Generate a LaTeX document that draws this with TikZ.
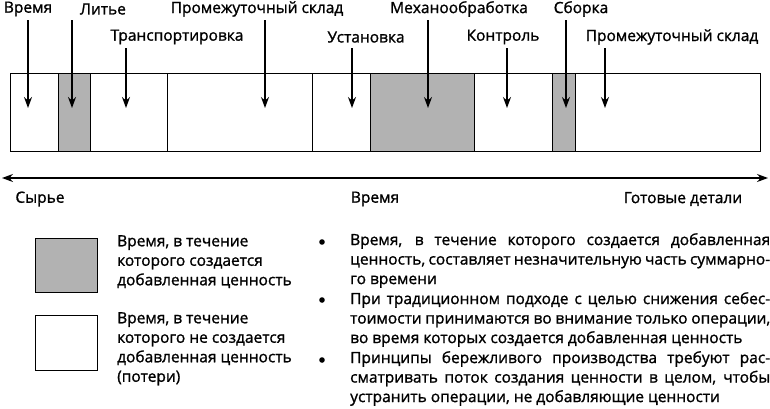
\documentclass[tikz,border=0pt]{standalone}
\usepackage{fontspec}
\setmainfont{Open Sans}[FakeBold=1.2]
\usetikzlibrary{arrows.meta}
\begin{document}
\begin{tikzpicture}[x=1pt,y=-1pt,
  seg/.style={draw,line width=1pt},
  gray/.style={seg,fill=black!30},
  lbl/.style={font=\fontsize{15.5}{18}\selectfont,inner sep=0pt},
  arr/.style={-{Stealth[length=11pt,width=8pt]},line width=1.2pt},
  txt/.style={font=\fontsize{15.5}{19.5}\selectfont,inner sep=0pt,anchor=north west,align=left},
  jtxt/.style={txt,text width=420pt,align=justify}]
\useasboundingbox (0,0) rectangle (770,408);
\draw[seg] (10,73) rectangle (760,151);
\draw[gray] (58,73) rectangle (90,151);
\draw[gray] (370,73) rectangle (474,151);
\draw[gray] (552,73) rectangle (575,151);
\foreach \x in {167,312} \draw[seg] (\x,73) -- (\x,151);
\node[lbl] (t1) at (28,9) {Время};
\node[lbl] (t2) at (103,9) {Литье};
\node[lbl] (t3) at (257,9) {Промежуточный склад};
\node[lbl] (t4) at (459,9) {Механообработка};
\node[lbl] (t5) at (581,9) {Сборка};
\node[lbl] (t6) at (177,37) {Транспортировка};
\node[lbl] (t7) at (366,37) {Установка};
\node[lbl] (t8) at (503,37) {Контроль};
\node[lbl] (t9) at (672,37) {Промежуточный склад};
\coordinate (a1) at (28,108); \coordinate (a2) at (72,108); \coordinate (a3) at (265,108);
\coordinate (a4) at (428,108); \coordinate (a5) at (566,108); \coordinate (a6) at (126,108);
\coordinate (a7) at (352,108); \coordinate (a8) at (507,108); \coordinate (a9) at (605,108);
\draw[arr] (28,20) -- (a1);
\draw[arr] (72,20) -- (a2);
\draw[arr] (265,20) -- (a3);
\draw[arr] (428,20) -- (a4);
\draw[arr] (566,20) -- (a5);
\draw[arr] (126,48) -- (a6);
\draw[arr] (352,48) -- (a7);
\draw[arr] (507,48) -- (a8);
\draw[arr] (605,48) -- (a9);
\coordinate (l) at (2,178); \coordinate (r) at (768,178);
\draw[{Stealth[length=11pt,width=8pt]}-{Stealth[length=11pt,width=8pt]},line width=1.2pt] (l) -- (r);
\node[lbl] (s1) at (40,199) {Сырье};
\node[lbl] (s2) at (375,199) {Время};
\node[lbl] (s3) at (683,199) {Готовые детали};
\draw[gray] (35,238) rectangle (97,292);
\draw[seg] (35,315) rectangle (97,370);
\node[txt] (g1) at (117,235) {Время, в течение\\которого создается\\добавленная ценность};
\node[txt] (g2) at (117,312) {Время, в течение\\которого не создается\\добавленная ценность\\(потери)};
\foreach \y in {242,300,360} \fill (322,\y) circle (2.8);
\node[jtxt] (b1) at (350,233) {Время, в течение которого создается добавленная\linebreak ценность, составляет незначительную часть суммарно-\linebreak го времени};
\node[jtxt] (b2) at (350,292) {При традиционном подходе с целью снижения себес-\linebreak тоимости принимаются во внимание только операции,\linebreak во время которых создается добавленная ценность};
\node[jtxt] (b3) at (350,351) {Принципы бережливого производства требуют рас-\linebreak сматривать поток создания ценности в целом, чтобы\linebreak устранить операции, не добавляющие ценности};
\end{tikzpicture}
\end{document}
